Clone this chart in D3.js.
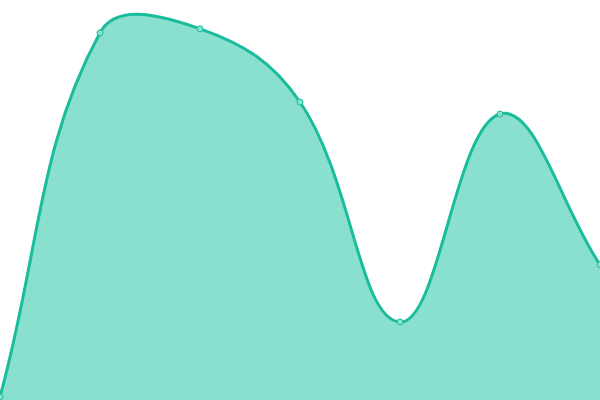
<!DOCTYPE html>
<html>
<head>
<meta charset="utf-8">
<script src="https://cdn.jsdelivr.net/npm/d3@7"></script>
<style>
  html, body { margin: 0; padding: 0; background: #fff; }
  svg { display: block; }
</style>
</head>
<body>
<svg id="chart" width="600" height="400"></svg>
<script>
// data
const xIndex = [0, 1, 2, 3, 4, 5, 6];
const values = [0.8, 91.8, 92.8, 74.5, 19.5, 71.5, 33.8];

const width = 600;
const height = 400;
const tension = 0.4;

const svg = d3.select("#chart");

const x = d3.scaleLinear()
    .domain([0, 6])
    .range([0, width]);

const y = d3.scaleLinear()
    .domain([0, 100])
    .range([height, 0]);

const points = xIndex.map((d, i) => ({ x: d, y: values[i] }));

// custom curve: spline whose control points are scaled by the
// neighbouring segment lengths (short segment -> tight turn)
class TensionSpline {
    constructor(context, t) {
        this._context = context;
        this._t = t;
    }
    areaStart() { this._line = 0; }
    areaEnd() { this._line = NaN; }
    lineStart() { this._pts = []; }
    point(px, py) { this._pts.push([+px, +py]); }
    lineEnd() {
        const p = this._pts, n = p.length, ctx = this._context;
        if (n) {
            const cap = (v, lo, hi) => Math.max(Math.min(v, hi), lo);
            const cps = p.map((cur, i) => {
                const prev = p[Math.max(i - 1, 0)];
                const next = p[Math.min(i + 1, n - 1)];
                const d01 = Math.hypot(cur[0] - prev[0], cur[1] - prev[1]);
                const d12 = Math.hypot(next[0] - cur[0], next[1] - cur[1]);
                let s01 = d01 / (d01 + d12), s12 = d12 / (d01 + d12);
                if (isNaN(s01)) s01 = 0;
                if (isNaN(s12)) s12 = 0;
                const fa = this._t * s01, fb = this._t * s12;
                return {
                    px: cap(cur[0] - fa * (next[0] - prev[0]), 0, width),
                    py: cap(cur[1] - fa * (next[1] - prev[1]), 0, height),
                    nx: cap(cur[0] + fb * (next[0] - prev[0]), 0, width),
                    ny: cap(cur[1] + fb * (next[1] - prev[1]), 0, height)
                };
            });
            if (this._line) ctx.lineTo(p[0][0], p[0][1]);
            else ctx.moveTo(p[0][0], p[0][1]);
            for (let i = 1; i < n; i++) {
                ctx.bezierCurveTo(cps[i - 1].nx, cps[i - 1].ny, cps[i].px, cps[i].py, p[i][0], p[i][1]);
            }
        }
        if (this._line || (this._line !== 0 && n === 1)) ctx.closePath();
        this._line = 1 - this._line;
    }
}
const curve = context => new TensionSpline(context, tension);

const area = d3.area()
    .x(d => x(d.x))
    .y0(height)
    .y1(d => y(d.y))
    .curve(curve);

const line = d3.line()
    .x(d => x(d.x))
    .y(d => y(d.y))
    .curve(curve);

// filled area
svg.append("path")
    .datum(points)
    .attr("d", area)
    .attr("fill", "#8ae0cf");

// outline
svg.append("path")
    .datum(points)
    .attr("d", line)
    .attr("fill", "none")
    .attr("stroke", "#1abc9c")
    .attr("stroke-width", 3);

// dots
svg.selectAll("circle")
    .data(points)
    .join("circle")
    .attr("cx", d => x(d.x))
    .attr("cy", d => y(d.y))
    .attr("r", 3)
    .attr("fill", "#8ae0cf")
    .attr("stroke", "#1abc9c")
    .attr("stroke-width", 1);
</script>
</body>
</html>
